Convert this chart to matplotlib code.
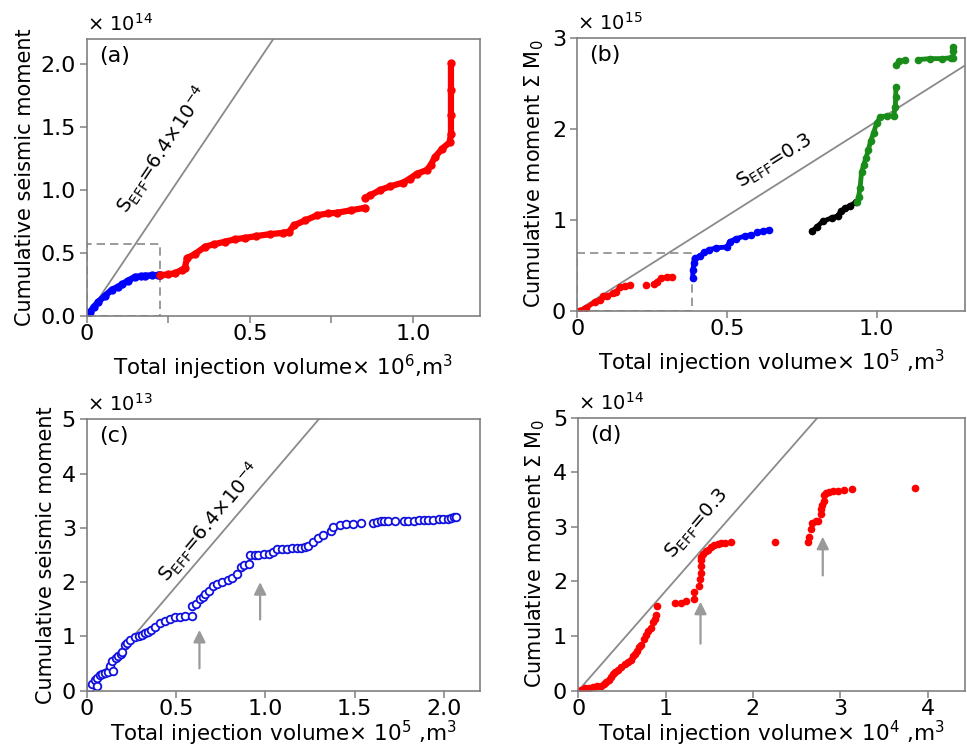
import matplotlib.pyplot as plt
from matplotlib.patches import Rectangle

# ---- data ----
# (a) cumulative seismic moment (x1e14) vs injection volume (x1e6 m3)
xa_blue = [0.0, 0.009, 0.02, 0.034, 0.055, 0.077, 0.095, 0.107, 0.125, 0.147, 0.165, 0.178, 0.2, 0.218, 0.224]
ya_blue = [0.0, 0.03, 0.07, 0.11, 0.16, 0.21, 0.23, 0.25, 0.28, 0.31, 0.315, 0.32, 0.323, 0.325, 0.325]
xa_red1 = [0.224, 0.25, 0.27, 0.29, 0.30, 0.307, 0.33, 0.362, 0.39, 0.423, 0.455, 0.485, 0.52,
           0.561, 0.6, 0.62, 0.635, 0.67, 0.706, 0.74, 0.767, 0.81, 0.853]
ya_red1 = [0.325, 0.33, 0.34, 0.365, 0.38, 0.46, 0.49, 0.55, 0.57, 0.59, 0.61, 0.62, 0.635,
           0.65, 0.66, 0.67, 0.72, 0.76, 0.80, 0.815, 0.82, 0.84, 0.86]
xa_red2 = [0.853, 0.87, 0.899, 0.93, 0.97, 0.99, 1.012, 1.043, 1.055, 1.067, 1.09, 1.113,
           1.117, 1.117, 1.117, 1.117]
ya_red2 = [0.94, 0.96, 1.0, 1.03, 1.06, 1.09, 1.13, 1.16, 1.2, 1.26, 1.33, 1.38,
           1.45, 1.6, 1.8, 2.01]
slope_a = 3.85

# (b) cumulative moment (x1e15) vs injection volume (x1e5 m3)
xb_red = [[0.005, 0.03, 0.06, 0.076, 0.087, 0.10, 0.12, 0.13, 0.143, 0.16, 0.176],
          [0.23],
          [0.255, 0.265, 0.28, 0.3, 0.316]]
yb_red = [[0.0, 0.03, 0.1, 0.12, 0.16, 0.16, 0.19, 0.21, 0.26, 0.27, 0.28],
          [0.28],
          [0.29, 0.31, 0.36, 0.37, 0.37]]
xb_blue = [[0.386, 0.386, 0.39, 0.395, 0.41, 0.425, 0.44, 0.465, 0.5, 0.51, 0.53, 0.56, 0.58],
           [0.60, 0.62, 0.64]]
yb_blue = [[0.36, 0.45, 0.52, 0.58, 0.60, 0.64, 0.67, 0.69, 0.70, 0.76, 0.79, 0.82, 0.835],
           [0.86, 0.87, 0.89]]
xb_black = [[0.785, 0.80, 0.82, 0.85, 0.87, 0.88, 0.896, 0.91, 0.93]]
yb_black = [[0.87, 0.92, 0.98, 1.02, 1.04, 1.09, 1.13, 1.15, 1.19]]
xb_green = [[0.935, 0.94, 0.945, 0.95, 0.957, 0.965, 0.973, 0.98, 0.99, 1.0, 1.013, 1.035,
             1.057, 1.063, 1.064, 1.065],
            [1.066, 1.075, 1.096],
            [1.14, 1.18, 1.22, 1.25, 1.255, 1.257, 1.257]]
yb_green = [[1.19, 1.25, 1.35, 1.52, 1.6, 1.68, 1.77, 1.86, 1.95, 2.06, 2.13, 2.14,
             2.14, 2.24, 2.35, 2.46],
            [2.70, 2.74, 2.75],
            [2.76, 2.77, 2.77, 2.78, 2.78, 2.85, 2.9]]
slope_b = 2.08

# (c) cumulative seismic moment (x1e13) vs injection volume (x1e5 m3)
xc = [0.017, 0.03, 0.045, 0.056, 0.056, 0.07, 0.084, 0.1, 0.118, 0.13,
      0.146, 0.14, 0.16, 0.174, 0.19, 0.197, 0.213, 0.225, 0.242, 0.27,
      0.29, 0.309, 0.325, 0.343, 0.36, 0.382, 0.41, 0.438, 0.465, 0.494,
      0.52, 0.55, 0.59, 0.59, 0.61, 0.635, 0.65, 0.663, 0.685, 0.708,
      0.73, 0.758, 0.79, 0.815, 0.843, 0.86, 0.88, 0.905, 0.916, 0.94,
      0.96, 0.99, 1.017, 1.04, 1.067, 1.095, 1.12, 1.15, 1.175, 1.197,
      1.22, 1.236, 1.264, 1.292, 1.32, 1.365, 1.38, 1.42, 1.45, 1.49,
      1.534, 1.60, 1.625, 1.646, 1.665, 1.685, 1.725, 1.776, 1.80, 1.83,
      1.86, 1.888, 1.91, 1.938, 1.97, 1.994, 2.02, 2.04, 2.055, 2.07]
yc = [0.04, 0.12, 0.2, 0.09, 0.23, 0.28, 0.31, 0.33, 0.34, 0.45,
      0.36, 0.54, 0.6, 0.63, 0.68, 0.72, 0.84, 0.88, 0.94, 0.99,
      1.0, 1.03, 1.06, 1.08, 1.12, 1.17, 1.24, 1.29, 1.32, 1.35,
      1.36, 1.38, 1.38, 1.56, 1.6, 1.69, 1.72, 1.78, 1.84, 1.92,
      1.96, 2.0, 2.03, 2.07, 2.14, 2.28, 2.32, 2.34, 2.5, 2.5,
      2.5, 2.51, 2.52, 2.56, 2.61, 2.61, 2.61, 2.62, 2.62, 2.63,
      2.65, 2.67, 2.73, 2.81, 2.86, 2.95, 3.02, 3.06, 3.07, 3.07,
      3.08, 3.09, 3.11, 3.12, 3.12, 3.12, 3.12, 3.12, 3.12, 3.13,
      3.14, 3.15, 3.15, 3.15, 3.16, 3.17, 3.17, 3.18, 3.19, 3.2]
slope_c = 3.85
arrows_c = [(0.63, 0.36, 1.17), (0.97, 1.26, 2.05)]

# (d) cumulative moment (x1e14) vs injection volume (x1e4 m3)
xd = [0.03, 0.08, 0.12, 0.17, 0.22, 0.26, 0.3, 0.32, 0.35, 0.37,
      0.4, 0.42, 0.46, 0.49, 0.53, 0.57, 0.6, 0.63, 0.65, 0.67,
      0.7, 0.72, 0.75, 0.78, 0.8, 0.83, 0.86, 0.88, 0.89, 0.9,
      1.11, 1.18, 1.23, 1.32, 1.32, 1.38, 1.39, 1.40, 1.40, 1.40,
      1.41, 1.43, 1.46, 1.49, 1.52, 1.55, 1.6, 1.63, 1.68, 1.75,
      2.25, 2.63, 2.64, 2.66, 2.68, 2.72, 2.75, 2.78, 2.78, 2.79,
      2.81, 2.81, 2.84, 2.87, 2.92, 2.98, 3.04, 3.13, 3.86]
yd = [0.01, 0.04, 0.05, 0.07, 0.08, 0.09, 0.13, 0.16, 0.2, 0.25,
      0.3, 0.34, 0.38, 0.43, 0.48, 0.52, 0.57, 0.63, 0.68, 0.72,
      0.8, 0.84, 0.95, 1.02, 1.1, 1.15, 1.26, 1.32, 1.38, 1.56,
      1.6, 1.61, 1.65, 1.68, 1.8, 1.92, 2.05, 2.15, 2.28, 2.4,
      2.45, 2.5, 2.55, 2.58, 2.63, 2.67, 2.69, 2.7, 2.71, 2.72,
      2.72, 2.72, 2.82, 2.96, 3.08, 3.1, 3.1, 3.23, 3.32, 3.4,
      3.47, 3.58, 3.62, 3.64, 3.65, 3.66, 3.67, 3.69, 3.72]
slope_d = 1.825
arrows_d = [(1.4, 0.81, 1.68), (2.8, 2.06, 2.87)]

SPINE = "#808080"
ARROW = "#9a9a9a"
plt.rcParams["font.family"] = ["DejaVu Sans"]
plt.rcParams["mathtext.fontset"] = "dejavusans"

fig = plt.figure(figsize=(9.67, 7.54), dpi=100)
ax_a = fig.add_axes([0.090, 0.581, 0.406, 0.367])
ax_b = fig.add_axes([0.597, 0.588, 0.401, 0.362])
ax_c = fig.add_axes([0.090, 0.084, 0.406, 0.360])
ax_d = fig.add_axes([0.598, 0.084, 0.400, 0.362])


def style(ax, xlim, ylim, xticks, xlabels, yticks, ylabels, xlabel, ylabel, tag, offset, xpad):
    ax.set_xlim(*xlim)
    ax.set_ylim(*ylim)
    ax.set_xticks(xticks)
    ax.set_xticklabels(xlabels)
    ax.set_yticks(yticks)
    ax.set_yticklabels(ylabels)
    for s in ax.spines.values():
        s.set_color(SPINE)
        s.set_linewidth(1.2)
    ax.tick_params(direction="out", length=5, width=1.1, color=SPINE, labelsize=16, pad=3)
    ax.tick_params(axis="x", pad=1)
    ax.set_xlabel(xlabel, fontsize=15.5, labelpad=xpad)
    ax.set_ylabel(ylabel, fontsize=15, labelpad=4)
    ax.text(0.03, 0.975, tag, transform=ax.transAxes, fontsize=16, va="top", ha="left")
    ax.text(0.0, 1.015, offset, transform=ax.transAxes, fontsize=14, va="bottom", ha="left")


def seff_line(ax, slope, xmax):
    ax.plot([0, xmax], [0, slope * xmax], color="#8a8a8a", lw=1.3, zorder=1)


# (a)
seff_line(ax_a, slope_a, 0.6)
ax_a.add_patch(Rectangle((0, 0), 0.224, 0.571, fill=False, ls=(0, (5, 3)), ec="#8a8a8a", lw=1.2))
ax_a.plot(xa_blue, ya_blue, "-o", color="#0000ff", lw=4.5, ms=5, solid_capstyle="round")
ax_a.plot(xa_red1, ya_red1, "-o", color="#ff0000", lw=4.5, ms=5, solid_capstyle="round")
ax_a.plot(xa_red2, ya_red2, "-o", color="#ff0000", lw=4.5, ms=5, solid_capstyle="round")
ax_a.text(0.233, 1.32, r"S$_{\mathregular{EFF}}$=6.4×10$^{-4}$", rotation=56, fontsize=14,
          ha="center", va="center", rotation_mode="anchor")
style(ax_a, (0, 1.205), (0, 2.2), [0, 0.25, 0.5, 0.75, 1.0], ["0", "", "0.5", "", "1.0"],
      [0, 0.5, 1.0, 1.5, 2.0], ["0.0", "0.5", "1.0", "1.5", "2.0"],
      "Total injection volume× 10$^{6}$,m$^{3}$", "Cumulative seismic moment", "(a)",
      r"× 10$^{14}$", 6)

# (b)
seff_line(ax_b, slope_b, 1.32)
ax_b.add_patch(Rectangle((0, 0), 0.385, 0.63, fill=False, ls=(0, (5, 3)), ec="#8a8a8a", lw=1.2))
for xs, ys, col in [(xb_red, yb_red, "#ff0000"), (xb_blue, yb_blue, "#0000ff"),
                    (xb_black, yb_black, "#000000"), (xb_green, yb_green, "#1a8c1a")]:
    for xx, yy in zip(xs, ys):
        ax_b.plot(xx, yy, "-o", color=col, lw=3.5, ms=4.5, solid_capstyle="round")
ax_b.text(0.658, 1.64, r"S$_{\mathregular{EFF}}$=0.3", rotation=32, fontsize=14,
          ha="center", va="center", rotation_mode="anchor")
style(ax_b, (0, 1.296), (0, 3), [0, 0.5, 1.0], ["0", "0.5", "1.0"],
      [0, 1, 2, 3], ["0", "1", "2", "3"],
      "Total injection volume× 10$^{5}$ ,m$^{3}$", r"Cumulative moment Σ M$_{0}$", "(b)",
      r"× 10$^{15}$", 6)

# (c)
seff_line(ax_c, slope_c, 1.35)
ax_c.plot(xc, yc, "o", mfc="white", mec="#1010e0", mew=1.3, ms=5.5, ls="none")
for x0, y0, y1 in arrows_c:
    ax_c.annotate("", xy=(x0, y1), xytext=(x0, y0),
                  arrowprops=dict(arrowstyle="-|>", color=ARROW, lw=1.6, mutation_scale=18))
ax_c.text(0.69, 3.09, r"S$_{\mathregular{EFF}}$=6.4×10$^{-4}$", rotation=50, fontsize=14,
          ha="center", va="center", rotation_mode="anchor")
style(ax_c, (0, 2.2), (0, 5), [0, 0.5, 1.0, 1.5, 2.0], ["0", "0.5", "1.0", "1.5", "2.0"],
      [0, 1, 2, 3, 4, 5], ["0", "1", "2", "3", "4", "5"],
      "Total injection volume× 10$^{5}$ ,m$^{3}$", "Cumulative seismic moment", "(c)",
      r"× 10$^{13}$", 0)

# (d)
seff_line(ax_d, slope_d, 2.8)
ax_d.plot(xd, yd, "o", color="#ff0000", ms=4.5, ls="none")
for x0, y0, y1 in arrows_d:
    ax_d.annotate("", xy=(x0, y1), xytext=(x0, y0),
                  arrowprops=dict(arrowstyle="-|>", color=ARROW, lw=1.6, mutation_scale=18))
ax_d.text(1.36, 3.06, r"S$_{\mathregular{EFF}}$=0.3", rotation=49, fontsize=14,
          ha="center", va="center", rotation_mode="anchor")
style(ax_d, (0, 4.43), (0, 5), [0, 1, 2, 3, 4], ["0", "1", "2", "3", "4"],
      [0, 1, 2, 3, 4, 5], ["0", "1", "2", "3", "4", "5"],
      "Total injection volume× 10$^{4}$ ,m$^{3}$", r"Cumulative moment Σ M$_{0}$", "(d)",
      r"× 10$^{14}$", 0)

fig.savefig("out.png", dpi=100)
